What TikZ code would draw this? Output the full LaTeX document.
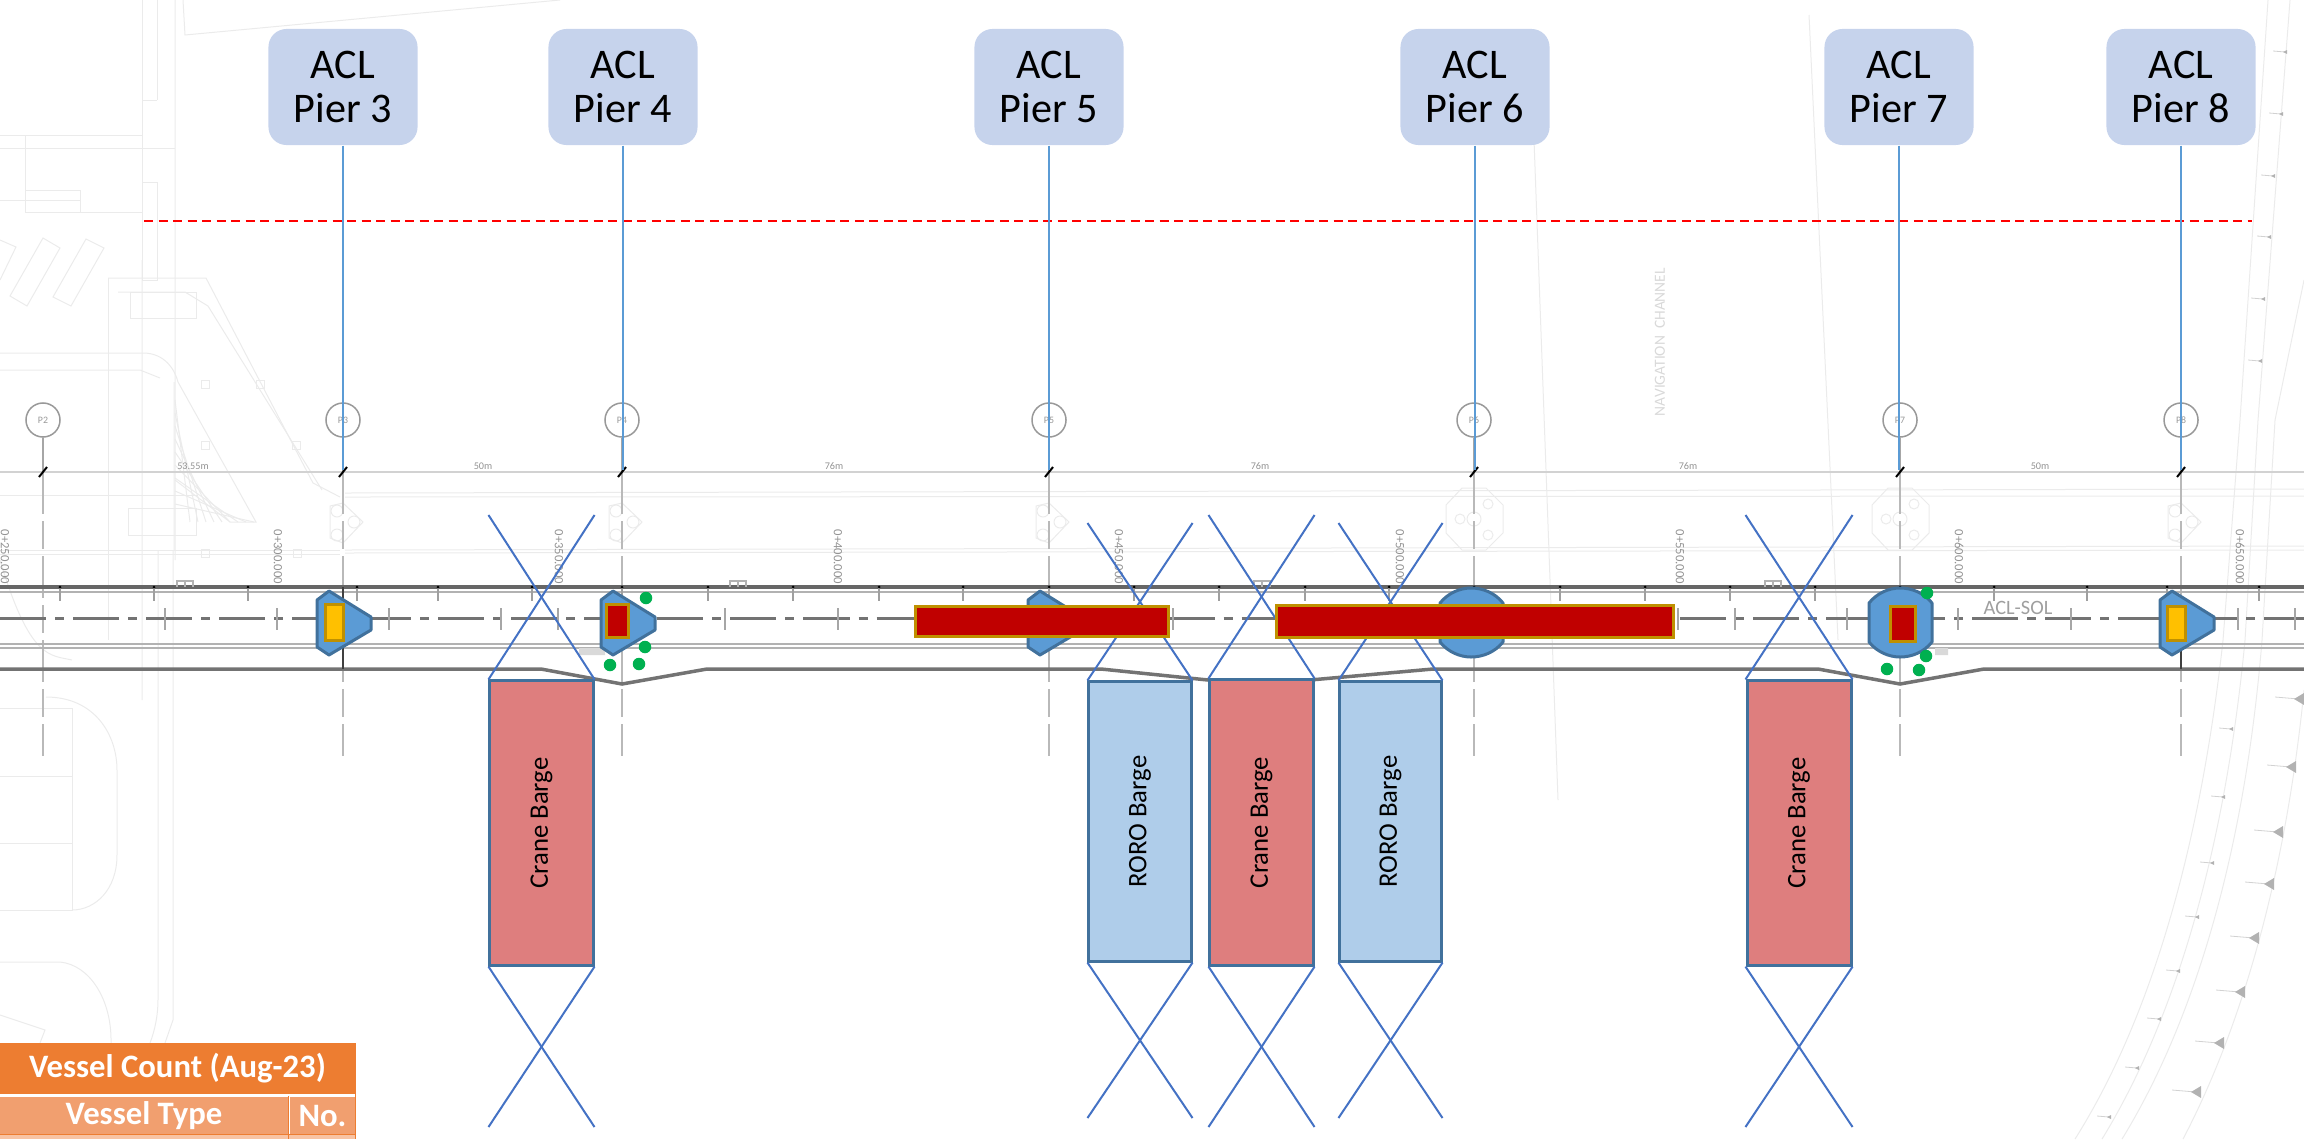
\documentclass[tikz,border=0pt]{standalone}
\usepackage{fontspec}
\setmainfont{Carlito}
\usepackage{tikz}
\usetikzlibrary{calc}

\definecolor{pierblue}{HTML}{5B9BD5}
\definecolor{edgeblue}{HTML}{41719C}
\definecolor{crossblue}{HTML}{4472C4}
\definecolor{labelblue}{HTML}{C6D3EC}
\definecolor{cranered}{HTML}{DE7E7E}
\definecolor{roroblue}{HTML}{AFCDEA}
\definecolor{capred}{HTML}{C00000}
\definecolor{capgold}{HTML}{BF9000}
\definecolor{capyellow}{HTML}{FFC000}
\definecolor{dotgreen}{HTML}{00B050}
\definecolor{tabhead}{HTML}{ED7D31}
\definecolor{tabrow}{HTML}{F19F6F}
\definecolor{tabrowb}{HTML}{F8C3A4}

\tikzset{
  plan/.style={draw=gray!16, line width=0.01cm},
  rail/.style={draw=black!60, line width=0.035cm},
  gridline/.style={draw=gray!55, line width=0.015cm, dash pattern=on 0.42cm off 0.07cm on 0.28cm off 0.07cm},
  pierlabel/.style={fill=labelblue, rounded corners=0.18cm, minimum width=1.49cm, minimum height=1.16cm, align=center, inner sep=0pt, font=\fontsize{12}{12.5}\selectfont},
  pierline/.style={draw=pierblue, line width=0.028cm},
  piercircle/.style={circle, draw=gray!80, line width=0.015cm, minimum size=0.34cm, inner sep=0pt, text=gray!80, font=\fontsize{2.8}{3}\selectfont},
  piershape/.style={fill=pierblue, draw=edgeblue, line width=0.03cm, line join=round},
  capbox/.style={draw=capgold, line width=0.03cm, inner sep=0pt},
  bargebox/.style={draw=edgeblue, line width=0.03cm, inner sep=0pt, minimum width=1.03cm, minimum height=2.84cm, font=\fontsize{7.6}{9}\selectfont},
  crossline/.style={draw=crossblue, line width=0.02cm},
  greendot/.style={circle, fill=dotgreen, minimum size=0.125cm, inner sep=0pt},
  tabcell/.style={inner sep=0pt, text=white, font=\bfseries\fontsize{9.3}{10}\selectfont},
  dimlabel/.style={text=gray!85, inner sep=0pt, font=\fontsize{2.9}{3}\selectfont},
  stationlabel/.style={text=gray!85, inner sep=0pt, font=\fontsize{3.6}{4}\selectfont},
}

\newcommand{\trapier}[1]{\draw[piershape] (#1,600) -- (#1+12,591) -- (#1+54,617) -- (#1+54,630) -- (#1+12,655) -- (#1,647) -- cycle;}
\newcommand{\roundpier}[1]{\draw[piershape] (#1,603) .. controls (#1+8,593) and (#1+20,588) .. (#1+31,588) .. controls (#1+43,588) and (#1+55,593) .. (#1+63,603) -- (#1+63,642) .. controls (#1+55,652) and (#1+43,657) .. (#1+31,657) .. controls (#1+20,657) and (#1+8,652) .. (#1,642) -- cycle;}

\begin{document}
\begin{tikzpicture}[x=0.01cm, y=-0.01cm]
  \useasboundingbox (0,0) rectangle (2304,1139);

  % faint plan, left
  \draw[plan] (142,0) -- (142,280) (157,0) -- (157,100) (142,100) -- (157,100);
  \draw[plan] (175,0) -- (175,560) (183,0) -- (185,35) -- (560,0);
  \draw[plan] (0,135) -- (142,135) (25,135) -- (25,212) -- (142,212) -- (142,135) (0,148) -- (175,148);
  \draw[plan] (0,200) -- (80,200) (25,190) -- (80,190) -- (80,212) (142,182) rectangle (157,280);
  \foreach \a/\b/\c/\d in {43/238/60/248, 86/239/104/248} {
    \draw[plan] (\a,\b) -- (\c,\d) -- (\c-33,\d+58) -- (\a-33,\b+58) -- cycle;
  }
  \draw[plan] (0,240) -- (16,247) -- (0,280);
  \draw[plan] (108,278) -- (206,278) -- (313,483) -- (340,497);
  \draw[plan] (118,292) -- (185,292) -- (208,306) -- (322,490);
  \draw[plan] (108,278) -- (108,640) (130,292) rectangle (196,318);
  \draw[plan] (0,353) -- (143,353) .. controls (165,353) and (175,370) .. (178,382) -- (256,522) -- (230,522) -- (175,480);
  \draw[plan] (0,370) -- (140,370) -- (160,378) (142,260) -- (142,700) (174,382) -- (174,550);
  \foreach \k in {0,...,8} { \draw[plan] (175,400+\k*13) -- (190+\k*8,522); }
  \foreach \a/\b in {205/384, 205/445, 260/384, 296/445, 205/553, 297/553} {
    \draw[plan] (\a-4,\b-4) rectangle (\a+4,\b+4);
  }
  \draw[plan] (128,508) rectangle (196,535) (0,495) -- (198,495) (0,550) -- (340,550) (0,554) -- (340,554);
  \draw[plan] (72,660) .. controls (50,655) and (30,660) .. (0,560);
  \draw[plan] (0,708) -- (72,708) -- (72,910) -- (0,910) (0,776) -- (72,776) (0,843) -- (72,843);
  \draw[plan] (46,697) .. controls (95,697) and (117,735) .. (117,770) -- (117,855) .. controls (117,890) and (95,910) .. (72,910);
  \draw[plan] (0,962) -- (60,962) .. controls (90,965) and (112,1000) .. (111,1043);
  \draw[plan] (0,1015) -- (45,1030) -- (40,1043);
  \draw[plan] (158,550) -- (158,1000) .. controls (158,1015) and (155,1030) .. (150,1043);
  \draw[plan] (173,550) -- (173,1020) -- (165,1043);

  % faint plan, middle and right
  \draw[plan] (345,493) -- (2304,489) (345,497) -- (2304,496) (345,550) -- (2304,546) (345,553) -- (2304,550);
  \foreach \x in {343,622,1049,2181} {
    \draw[plan] (\x-13,506) -- (\x,503) -- (\x+20,522) -- (\x,543) -- (\x-13,538) -- cycle;
    \draw[plan] (\x-6,511) circle (6) (\x-6,535) circle (6) (\x+11,522) circle (6);
  }
  \foreach \x in {1474,1900} {
    \draw[plan] (\x-28,505) -- (\x-12,488) -- (\x+12,488) -- (\x+29,505) -- (\x+29,533) -- (\x+12,550) -- (\x-12,550) -- (\x-28,533) -- cycle;
    \draw[plan] (\x-14,519) circle (5) (\x+14,504) circle (5) (\x+14,535) circle (5) (\x,519) circle (7);
  }
  \draw[plan] (1530,30) -- (1558,800) (1809,15) -- (1838,640);
  \draw[plan] (2268,0) -- (2240,420) -- (2223,640) .. controls (2200,850) and (2150,1020) .. (2075,1139);
  \draw[plan] (2290,0) -- (2258,420) -- (2245,640) .. controls (2225,850) and (2175,1020) .. (2102,1139);
  \draw[plan] (2304,280) -- (2275,420) -- (2262,640) .. controls (2245,850) and (2195,1020) .. (2122,1139);
  \draw[plan] (2304,690) .. controls (2285,880) and (2240,1030) .. (2183,1139);
  \foreach \a/\b in {2299/699, 2291/767, 2278/832, 2269/884, 2254/938, 2240/992, 2219/1043, 2196/1092} {
    \draw[draw=gray!35, line width=0.008cm] (\a-24,\b-2) -- (\a,\b);
    \fill[gray!60] (\a-5,\b) -- (\a+5,\b-6) -- (\a+5,\b+6) -- cycle;
  }
  \foreach \a/\b in {2285/52, 2281/114, 2273/176, 2269/237, 2263/299, 2260/361, 2231/729, 2223/797, 2212/863, 2197/917, 2178/971, 2159/1019, 2137/1068, 2109/1117} {
    \draw[draw=gray!35, line width=0.008cm] (\a-12,\b-1) -- (\a,\b);
    \fill[gray!60] (\a-2,\b) -- (\a+2,\b-2) -- (\a+2,\b+2) -- cycle;
  }
  \node[rotate=90, text=gray!30, inner sep=0pt, font=\fontsize{4.4}{5}\selectfont] (navlabel) at (1660,342) {NAVIGATION\ \ CHANNEL};

  % pier grid
  \draw[draw=gray!35, line width=0.015cm] (0,472) -- (2304,472);
  \foreach \n/\x in {2/43,3/343,4/622,5/1049,6/1474,7/1900,8/2181} {
    \node[piercircle] (pc\n) at (\x,420) {P\n};
    \coordinate (tick\n) at (\x,472);
    \coordinate (foot\n) at (\x,756);
    \draw[draw=gray!70, line width=0.012cm] (pc\n) -- (tick\n);
    \draw[gridline] (tick\n) -- (foot\n);
    \draw[black, line width=0.02cm] (\x-4,477) -- (\x+4,467);
  }
  \foreach \x/\t in {193/53.55m, 483/50m, 834/76m, 1260/76m, 1688/76m, 2040/50m} {
    \node[dimlabel] at (\x,466) {\t};
  }
  \foreach \x/\t in {5/0+250.000, 278/0+300.000, 559/0+350.000, 838/0+400.000, 1119/0+450.000, 1400/0+500.000, 1680/0+550.000, 1959/0+600.000, 2240/0+650.000} {
    \node[stationlabel, rotate=-90] at (\x,557) {\t};
  }

  % rail lines
  \draw[rail] (0,587) -- (2304,587);
  \draw[draw=gray!60, line width=0.012cm] (0,592) -- (2304,592) (0,644) -- (2304,644) (0,648) -- (2304,648);
  \foreach \x in {60,154,248,357,438,532,622,708,793,879,963,1049,1134,1219,1305,1389,1474,1560,1645,1730,1815,1900,1994,2087,2167,2259} {
    \draw[draw=gray!75, line width=0.012cm] (\x,587) -- (\x,601);
    \fill[black] (\x,587) circle (1.5);
  }
  \foreach \x in {177,730,1254,1765} {
    \draw[draw=gray!60, line width=0.012cm] (\x,587) -- (\x,581) -- (\x+16,581) -- (\x+16,587) (\x+8,581) -- (\x+8,587);
  }
  \draw[draw=black!55, line width=0.03cm, dash pattern=on 0.46cm off 0.09cm on 0.09cm off 0.09cm] (0,618) -- (2304,618);
  \foreach \x in {165,277,389,501,558,725,838,1173,1678,1735,1847,1958,2071,2238,2295} {
    \draw[draw=gray!70, line width=0.012cm] (\x,608) -- (\x,630);
  }
  \node[text=gray!75, inner sep=0pt, font=\fontsize{5.8}{7}\selectfont] (sollabel) at (2018,608) {ACL-SOL};
  \fill[gray!30] (579,648) rectangle (605,655) (1935,648) rectangle (1948,655);
  \draw[draw=black!55, line width=0.035cm] (0,669) -- (541,669) -- (622,684) -- (707,669) -- (1101,669) -- (1208,680) -- (1310,680) -- (1433,669) -- (1818,669) -- (1900,684) -- (1984,669) -- (2304,669);
  \draw[draw=black!75, line width=0.02cm] (343,587) -- (343,669) (2181,640) -- (2181,669);

  % piers
  \trapier{317}
  \trapier{601}
  \trapier{1028}
  \trapier{2160}
  \roundpier{1440}
  \roundpier{1869}
  \node[capbox, fill=capyellow, minimum width=0.18cm, minimum height=0.36cm] (cap3) at (334,622) {};
  \node[capbox, fill=capred, minimum width=0.22cm, minimum height=0.33cm] (cap4) at (617,620.5) {};
  \node[capbox, fill=capred, minimum width=0.25cm, minimum height=0.35cm] (cap7) at (1902.5,623.5) {};
  \node[capbox, fill=capyellow, minimum width=0.18cm, minimum height=0.34cm] (cap8) at (2176,623) {};
  \foreach \n/\x/\y in {a/646/598, b/645/647, c/610/665, d/639/664, e/1927/593, f/1926/656, g/1887/669, h/1919/670} {
    \node[greendot] (dot\n) at (\x,\y) {};
  }

  % barges
  \node[bargebox, fill=cranered] (crane1) at (541.5,823) {\rotatebox{90}{Crane Barge}};
  \node[bargebox, fill=roroblue, minimum width=1.02cm, minimum height=2.79cm] (roro1) at (1140,821.5) {\rotatebox{90}{RORO Barge}};
  \node[bargebox, fill=cranered, minimum height=2.85cm] (crane2) at (1261.5,822.5) {\rotatebox{90}{Crane Barge}};
  \node[bargebox, fill=roroblue, minimum width=1.01cm, minimum height=2.79cm] (roro2) at (1390.5,821.5) {\rotatebox{90}{RORO Barge}};
  \node[bargebox, fill=cranered, minimum width=1.04cm] (crane3) at (1799,823) {\rotatebox{90}{Crane Barge}};
  \foreach \b/\t/\d in {crane1/515/1127, roro1/523/1118, crane2/515/1127, roro2/523/1118, crane3/515/1127} {
    \coordinate (\b tl) at (\b.north west |- 0,\t);
    \coordinate (\b tr) at (\b.north east |- 0,\t);
    \coordinate (\b dl) at (\b.south west |- 0,\d);
    \coordinate (\b dr) at (\b.south east |- 0,\d);
    \draw[crossline] (\b.north west) -- (\b tr);
    \draw[crossline] (\b.north east) -- (\b tl);
    \draw[crossline] (\b.south west) -- (\b dr);
    \draw[crossline] (\b.south east) -- (\b dl);
  }

  % long caps over the crossings
  \node[capbox, fill=capred, minimum width=2.52cm, minimum height=0.30cm] (capa) at (1042,621) {};
  \node[capbox, fill=capred, minimum width=3.97cm, minimum height=0.32cm] (capb) at (1475,621) {};

  % red limit and pier labels
  \coordinate (limita) at (144,221);
  \coordinate (limitb) at (2252,221);
  \draw[draw=red, line width=0.02cm, dash pattern=on 0.09cm off 0.055cm] (limita) -- (limitb);
  \foreach \n/\x in {3/343,4/623,5/1049,6/1475,7/1899,8/2181} {
    \node[pierlabel] (acl\n) at (\x,87) {ACL\\Pier \n};
    \coordinate (end\n) at (\x,470);
    \draw[pierline] (acl\n) -- (end\n);
  }

  % table
  \node[tabcell, fill=tabhead, minimum width=3.55cm, minimum height=0.51cm] (tabtitle) at (177.5,1068.5) {Vessel Count (Aug-23)};
  \node[tabcell, fill=tabrow, minimum width=2.88cm, minimum height=0.37cm] (tabtype) at (144,1115.5) {Vessel Type};
  \node[tabcell, fill=tabrow, minimum width=0.65cm, minimum height=0.37cm] (tabno) at (322.5,1115.5) {No.};
  \fill[tabrowb] (0,1134) rectangle (355,1139);
  \draw[draw=tabhead, line width=0.01cm] (tabtype.north east) -- (tabtype.south east) (0,1134) -- (355,1134) (288,1134) -- (288,1139) (355,1043) -- (355,1139);
\end{tikzpicture}
\end{document}
